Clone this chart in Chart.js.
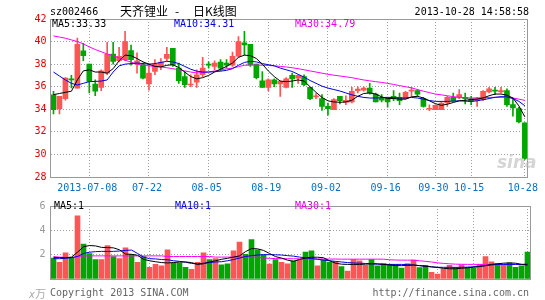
<!DOCTYPE html>
<html>
<head>
<meta charset="utf-8">
<script src="https://cdn.jsdelivr.net/npm/chart.js@4.4.1/dist/chart.umd.min.js"></script>
<style>
  body { margin: 0; background: #fff; }
  #wrap { position: relative; width: 545px; height: 300px; overflow: hidden; font: 10px "DejaVu Sans Mono", monospace; }
  #wrap canvas { position: absolute; left: 0; }
  .txt { position: absolute; white-space: pre; line-height: 10px; }
  .cjk { font-family: "Noto Sans CJK SC", sans-serif; font-size: 12px; line-height: 12px; }
</style>
</head>
<body>
<div id="wrap">
  <canvas id="priceChart" width="545" height="195" style="top:0"></canvas>
  <canvas id="volChart" width="545" height="95" style="top:195px"></canvas>

  <div class="txt" style="left:50px;top:7px">sz002466</div>
  <div class="txt cjk" style="left:120px;top:5px">天齐锂业</div>
  <div class="txt cjk" style="left:175px;top:5px">-</div>
  <div class="txt cjk" style="left:193px;top:5px">日K线图</div>
  <div class="txt" style="right:16px;top:7px">2013-10-28 14:58:58</div>

  <div class="txt" style="left:52px;top:19px;color:#000">MA5:33.33</div>
  <div class="txt" style="left:174px;top:19px;color:#0000e6">MA10:34.31</div>
  <div class="txt" style="left:295px;top:19px;color:#e600e6">MA30:34.79</div>

  <div class="txt" style="left:497px;top:154px;font:italic bold 17px 'DejaVu Sans',sans-serif;line-height:17px;color:rgba(185,185,185,0.6)">sina</div>

  <div class="txt" style="left:54px;top:201px;color:#000">MA5:1</div>
  <div class="txt" style="left:175px;top:201px;color:#0000e6">MA10:1</div>
  <div class="txt" style="left:295px;top:201px;color:#e600e6">MA30:1</div>

  <div class="txt" style="left:29px;top:288px;color:#aaa"><i>x</i><span style="font-family:'Noto Sans CJK SC';font-size:11px">万</span></div>
  <div class="txt" style="left:50px;top:288px;color:#666">Copyright 2013 SINA.COM</div>
  <div class="txt" style="right:16px;top:288px;color:#666">http://finance.sina.com.cn</div>
</div>

<script>
// trading days shown
const dates = [
  "2013-06-28","2013-07-01","2013-07-02","2013-07-03","2013-07-04","2013-07-05",
  "2013-07-08","2013-07-09","2013-07-10","2013-07-11","2013-07-12",
  "2013-07-15","2013-07-16","2013-07-17","2013-07-18","2013-07-19",
  "2013-07-22","2013-07-23","2013-07-24","2013-07-25","2013-07-26",
  "2013-07-29","2013-07-30","2013-07-31","2013-08-01","2013-08-02",
  "2013-08-05","2013-08-06","2013-08-07","2013-08-08","2013-08-09",
  "2013-08-12","2013-08-13","2013-08-14","2013-08-15","2013-08-16",
  "2013-08-19","2013-08-20","2013-08-21","2013-08-22","2013-08-23",
  "2013-08-26","2013-08-27","2013-08-28","2013-08-29","2013-08-30",
  "2013-09-02","2013-09-03","2013-09-04","2013-09-05","2013-09-06",
  "2013-09-09","2013-09-10","2013-09-11","2013-09-12","2013-09-13",
  "2013-09-16","2013-09-17","2013-09-18",
  "2013-09-23","2013-09-24","2013-09-25","2013-09-26","2013-09-27",
  "2013-09-30",
  "2013-10-08","2013-10-09","2013-10-10","2013-10-11",
  "2013-10-14","2013-10-15","2013-10-16","2013-10-17","2013-10-18",
  "2013-10-21","2013-10-22","2013-10-23","2013-10-24","2013-10-25",
  "2013-10-28"
];
const xTickLabels = ["2013-07-08","07-22","08-05","08-19","09-02","09-16","09-30","10-15","10-28"];

// OHLC
const open = [35.29,34.06,34.94,36.65,35.88,39.18,38.0,36.24,35.94,37.2,
  38.9,38.3,38.4,39.2,38.0,37.94,36.24,37.35,37.85,38.5,
  39.41,37.65,36.9,36.15,36.4,37.06,38.0,37.8,38.18,38.1,
  37.9,38.7,39.88,39.76,38.0,36.53,35.94,36.6,36.24,35.94,
  37.0,36.76,36.9,35.94,35.1,34.94,34.26,33.97,35.15,34.6,
  34.65,35.65,35.7,35.88,35.35,35.0,34.94,35.15,35.06,34.94,
  35.6,35.65,34.94,34.0,33.97,33.97,34.56,35.06,35.0,35.06,
  34.94,34.76,34.85,35.53,35.7,35.53,35.65,34.41,34.06,32.8];
const high = [35.59,35.15,36.8,37.0,40.3,39.85,38.0,36.6,37.5,39.94,
  39.94,39.5,40.9,39.7,39.0,38.1,38.0,38.4,38.5,39.5,
  39.41,38.1,37.35,37.06,37.5,38.6,38.2,38.3,38.4,38.4,
  39.06,40.44,40.9,39.76,38.0,37.35,36.7,36.7,36.53,36.8,
  37.2,37.06,37.06,35.94,35.4,35.3,34.56,34.94,35.15,35.2,
  35.94,36.0,36.0,36.3,35.44,35.3,35.06,35.65,35.44,35.6,
  35.94,35.74,35.06,34.4,34.4,34.7,35.15,35.44,35.74,35.44,
  35.15,35.06,35.65,35.94,35.94,35.94,35.82,35.0,34.18,32.8];
const low = [33.59,33.6,34.8,35.9,35.88,38.3,35.44,35.2,35.65,37.06,
  38.0,38.2,38.3,37.9,37.2,36.7,35.7,37.06,37.5,38.3,
  37.8,36.3,35.94,36.0,35.94,36.9,37.65,37.5,37.4,37.65,
  37.8,38.6,38.8,37.8,36.7,35.94,35.65,36.0,35.15,35.9,
  35.94,36.3,36.1,34.85,34.94,33.9,33.47,33.97,34.47,34.4,
  34.56,35.44,35.6,35.35,34.65,34.65,34.18,34.76,34.4,34.9,
  35.15,35.15,34.18,33.88,33.97,33.97,34.26,34.7,34.94,34.47,
  34.4,34.26,34.76,35.44,35.3,35.44,34.26,33.38,32.8,29.56];
const close = [33.97,35.15,36.76,36.6,39.76,38.76,36.47,35.6,37.41,38.88,
  38.24,38.7,40.0,38.4,38.3,36.76,37.2,38.0,38.18,38.88,
  37.94,36.53,36.18,36.2,37.06,37.65,37.9,38.1,37.65,37.9,
  38.7,40.0,39.7,37.94,36.8,35.94,36.6,36.24,36.47,36.7,
  36.7,37.0,36.18,34.94,35.2,34.26,34.06,34.85,34.76,34.8,
  35.6,35.8,35.88,35.44,34.65,34.8,34.65,34.94,34.76,35.5,
  35.7,35.35,34.26,34.06,34.35,34.56,35.06,34.76,35.3,34.94,
  34.7,35.0,35.6,35.82,35.6,35.65,34.41,34.12,32.88,29.65];

// price moving averages
const ma5 = [35.3,35.4,35.5,35.6,36.6,37.4,37.5,37.3,37.3,37.2,
  37.6,38.3,38.8,38.75,38.5,38.2,38.0,37.8,37.75,37.9,
  37.95,37.7,37.3,36.9,36.7,36.8,37.0,37.3,37.55,37.8,
  38.1,38.6,38.8,38.75,38.5,38.0,37.4,36.9,36.5,36.45,
  36.5,36.6,36.5,36.0,35.5,35.05,34.75,34.65,34.62,34.65,
  34.8,35.15,35.4,35.45,35.35,35.1,34.95,34.95,34.9,34.9,
  35.1,35.15,35.0,34.75,34.5,34.35,34.45,34.6,34.75,34.8,
  34.85,34.9,35.0,35.2,35.35,35.35,35.25,35.0,34.3,33.33];
const ma10 = [37.3,36.95,36.6,36.3,36.15,36.3,36.45,36.47,36.5,36.6,
  37.3,37.85,38.0,38.05,38.1,38.05,38.0,38.05,38.15,38.25,
  38.2,38.05,37.8,37.55,37.38,37.3,37.3,37.33,37.38,37.45,
  37.6,37.9,38.15,38.25,38.2,38.05,37.95,37.85,37.65,37.5,
  37.35,37.1,36.85,36.55,36.3,36.05,35.88,35.75,35.62,35.45,
  35.28,35.15,35.05,35.0,35.0,35.03,35.06,35.03,35.0,35.0,
  35.05,35.0,34.9,34.78,34.7,34.7,34.7,34.72,34.75,34.72,
  34.7,34.75,34.85,34.95,35.06,35.12,35.1,34.95,34.7,34.31];
const ma30 = [40.5,40.4,40.3,40.15,40.0,39.8,39.53,39.3,39.1,38.9,
  38.75,38.55,38.35,38.18,38.0,37.9,37.85,37.8,37.75,37.68,
  37.6,37.5,37.4,37.3,37.22,37.25,37.3,37.4,37.5,37.58,
  37.65,37.78,37.9,37.92,37.92,37.9,37.88,37.85,37.8,37.75,
  37.68,37.6,37.5,37.4,37.3,37.2,37.1,37.02,36.95,36.88,
  36.8,36.7,36.6,36.52,36.45,36.38,36.3,36.2,36.1,36.0,
  35.9,35.75,35.6,35.48,35.35,35.28,35.2,35.12,35.06,35.03,
  35.0,35.0,35.03,35.05,35.06,35.06,35.06,35.0,34.9,34.79];

// volume (x10k lots) and its moving averages
const vol = [1.72,1.36,2.15,1.75,5.19,2.87,2.08,1.6,1.6,2.75,
  1.84,1.67,2.56,2.03,1.36,1.84,0.96,1.2,1.08,2.39,
  1.32,1.32,0.96,0.79,1.36,2.15,1.6,1.67,1.17,1.24,
  2.32,3.04,2.03,3.23,2.39,1.99,1.22,1.6,1.36,1.24,
  1.5,1.6,2.22,2.32,1.08,1.6,1.36,1.44,1.03,0.65,
  1.6,1.5,1.12,1.6,1.08,1.27,1.2,1.2,0.89,1.27,
  1.55,0.93,1.12,0.55,0.41,0.84,1.12,0.96,1.17,0.93,
  0.89,1.2,1.84,1.41,1.27,1.2,1.32,0.96,1.08,2.22];
const vma5 = [1.78,1.76,1.75,1.8,2.2,2.65,2.75,2.72,2.6,2.58,
  2.56,2.4,2.05,2.03,1.95,1.62,1.5,1.42,1.35,1.32,
  1.35,1.4,1.4,1.35,1.2,1.25,1.4,1.5,1.62,1.7,
  1.8,1.9,2.25,2.5,2.48,2.35,2.1,1.84,1.72,1.55,
  1.45,1.6,1.72,1.79,1.79,1.75,1.5,1.3,1.22,1.2,
  1.2,1.2,1.22,1.25,1.25,1.2,1.15,1.1,1.1,1.12,
  1.15,1.1,1.05,1.0,0.95,0.88,0.84,0.84,0.88,0.92,
  0.97,1.02,1.1,1.2,1.25,1.3,1.32,1.3,1.2,1.15];
const vma10 = [1.67,1.67,1.7,1.75,1.85,2.1,2.2,2.25,2.27,2.27,
  2.27,2.3,2.35,2.38,2.1,1.8,1.67,1.65,1.6,1.58,
  1.5,1.45,1.38,1.28,1.24,1.3,1.35,1.4,1.42,1.5,
  1.6,1.72,1.85,1.92,1.97,2.0,2.0,1.99,1.97,1.92,
  1.88,1.8,1.75,1.68,1.62,1.55,1.5,1.45,1.4,1.35,
  1.32,1.3,1.28,1.25,1.22,1.2,1.2,1.2,1.2,1.18,
  1.15,1.1,1.05,1.0,0.96,0.96,0.96,0.96,0.96,0.98,
  1.0,1.05,1.1,1.15,1.2,1.2,1.2,1.2,1.2,1.22];
const vma30 = [1.84,1.8,1.77,1.76,1.85,1.9,1.9,1.9,1.9,1.9,
  1.9,1.9,1.9,1.9,1.9,1.9,1.9,1.9,1.9,1.85,
  1.85,1.85,1.85,1.85,1.85,1.85,1.85,1.8,1.8,1.8,
  1.8,1.8,1.8,1.8,1.8,1.72,1.7,1.68,1.67,1.67,
  1.66,1.66,1.65,1.65,1.65,1.65,1.64,1.64,1.63,1.63,
  1.63,1.63,1.63,1.63,1.63,1.63,1.58,1.56,1.55,1.55,
  1.55,1.5,1.45,1.4,1.33,1.28,1.25,1.22,1.21,1.2,
  1.2,1.2,1.2,1.2,1.2,1.2,1.2,1.2,1.2,1.2];

const UP = "#ff5555", DOWN = "#00a600", GRID = "#a0a0a0", FRAME = "#999";
const mono = { family: "DejaVu Sans Mono", size: 10 };

const candleColors = close.map((c, i) => c >= open[i] ? UP : DOWN);
const bodies = open.map((o, i) => [o, close[i]]);
const wicks = low.map((l, i) => [l, high[i]]);

function tickLabel(i) {
  const d = dates[i];
  if (!d) return undefined;
  return xTickLabels.find(l => d.endsWith(l));
}

// gray box round the plot area
const framePlugin = {
  id: "frame",
  afterDraw(chart) {
    const { ctx, chartArea: a } = chart;
    const l = Math.floor(a.left) + 0.5, r = Math.floor(a.right) + 0.5;
    const t = Math.floor(a.top) + 0.5, b = Math.floor(a.bottom) + 0.5;
    ctx.save();
    ctx.strokeStyle = FRAME;
    ctx.lineWidth = 1;
    ctx.strokeRect(l, t, r - l, b - t);
    ctx.restore();
  }
};

function maLine(data, color) {
  return { type: "line", data, borderColor: color, borderWidth: 1, pointRadius: 0, tension: 0, order: 0 };
}

// only the dated days keep a tick, so the axis grid draws just those lines
function xAxis(showLabels, height) {
  return {
    offset: true,
    grid: { display: true, offset: false, color: GRID, drawTicks: false },
    border: { display: false, dash: [1, 2] },
    afterBuildTicks: ax => {
      ax.ticks = ax.ticks.filter(t => tickLabel(t.value));
    },
    ticks: {
      display: showLabels,
      autoSkip: false,
      maxRotation: 0,
      padding: 5,
      labelOffset: -2,
      color: "#0a6fc2",
      font: mono,
      callback: (v) => tickLabel(v) || ""
    },
    afterFit: ax => { ax.height = height; }
  };
}

new Chart(document.getElementById("priceChart"), {
  type: "bar",
  data: {
    labels: dates,
    datasets: [
      maLine(ma5, "#000000"),
      maLine(ma10, "#0000e6"),
      maLine(ma30, "#ff00ff"),
      { data: bodies, backgroundColor: candleColors, barThickness: 5, minBarLength: 1, grouped: false, order: 1 },
      { data: wicks, backgroundColor: candleColors, barThickness: 1, grouped: false, order: 2 }
    ]
  },
  options: {
    responsive: false,
    animation: false,
    layout: { padding: { top: 19, right: 14.5, left: 0, bottom: 0 } },
    plugins: { legend: { display: false }, tooltip: { enabled: false } },
    scales: {
      x: xAxis(true, 18),
      y: {
        min: 28, max: 42,
        ticks: { stepSize: 2, color: "#e60000", font: mono, padding: 4 },
        grid: { color: GRID, drawTicks: false },
        border: { display: false, dash: [1, 2] },
        afterFit: ax => { ax.width = 50.5; }
      }
    }
  },
  plugins: [framePlugin]
});

new Chart(document.getElementById("volChart"), {
  type: "bar",
  data: {
    labels: dates,
    datasets: [
      maLine(vma5, "#000000"),
      maLine(vma10, "#0000e6"),
      maLine(vma30, "#ff00ff"),
      { data: vol, backgroundColor: candleColors, barThickness: 5, grouped: false, order: 1 }
    ]
  },
  options: {
    responsive: false,
    animation: false,
    layout: { padding: { top: 6, right: 14.5, left: 0, bottom: 0 } },
    plugins: { legend: { display: false }, tooltip: { enabled: false } },
    scales: {
      x: xAxis(false, 5),
      y: {
        min: 0, max: 6,
        ticks: { stepSize: 2, color: "#999", font: mono, padding: 5, callback: v => v === 0 ? "" : v },
        grid: { color: GRID, drawTicks: false },
        border: { display: false, dash: [1, 2] },
        afterFit: ax => { ax.width = 50.5; }
      }
    }
  },
  plugins: [framePlugin]
});
</script>
</body>
</html>
